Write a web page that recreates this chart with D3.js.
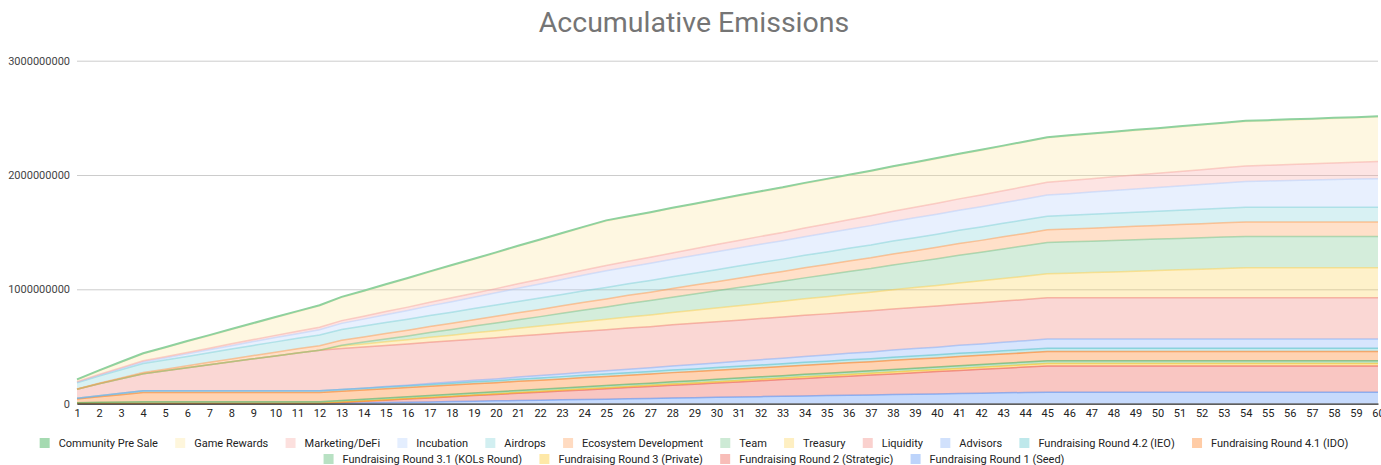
<!DOCTYPE html>
<html>
<head>
<meta charset="utf-8">
<script src="https://cdn.jsdelivr.net/npm/d3@7"></script>
<style>
  html, body { margin: 0; padding: 0; background: #fff; }
  svg { display: block; font-family: Roboto, "Liberation Sans", Arial, sans-serif; }
</style>
</head>
<body>
<svg id="chart" width="1381" height="465"></svg>
<script>
// Cumulative token emissions per month, in millions of tokens.
const months = [1,2,3,4,5,6,7,8,9,10,11,12,13,14,15,16,17,18,19,20,21,22,23,24,25,26,27,28,29,30,
  31,32,33,34,35,36,37,38,39,40,41,42,43,44,45,46,47,48,49,50,51,52,53,54,55,56,57,58,59,60];

const seed = [0,0,0,0,0,0,0,0,0,0,0,0, 3,6,9,12,15,18,21,24,27,30,33,36,
  39,42,45,48,52,55,58,61,64,67,70,73, 76,79,82,85,88,91,94,97,100,100,100,100,
  100,100,100,100,100,100,100,100,100,100,100,100];
const strategic = [0,0,0,0,0,0,0,0,0,0,0,0, 7,14,21,28,35,42,49,56,63,70,77,84,
  91,98,105,112,118,125,132,139,146,153,160,167, 174,181,188,195,202,209,216,223,230,230,230,230,
  230,230,230,230,230,230,230,230,230,230,230,230];
const privateRound = [2,2,2,2,2,2,2,2,2,2,2,2, 3,3,4,4,5,5,6,6,7,7,8,9,
  9,10,10,11,11,12,12,13,13,14,14,15, 15,16,17,17,18,18,19,19,20,20,20,20,
  20,20,20,20,20,20,20,20,20,20,20,20];
const kolsRound = [6,9,12,15,15,15,15,15,15,15,15,15, 15,16,16,16,16,17,17,17,18,18,18,19,
  19,19,19,20,20,20,21,21,21,22,22,22, 22,23,23,23,24,24,24,25,25,25,25,25,
  25,25,25,25,25,25,25,25,25,25,25,25];
const idoRound = [32,48,64,80,80,80,80,80,80,80,80,80, 80,80,80,80,80,80,80,80,80,80,80,80,
  80,80,80,80,80,80,80,80,80,80,80,80, 80,80,80,80,80,80,80,80,80,80,80,80,
  80,80,80,80,80,80,80,80,80,80,80,80];
const ieoRound = [6,9,12,15,15,15,15,15,15,15,15,15, 15,16,16,16,17,17,18,18,19,19,20,20,
  21,21,21,22,22,23,23,24,24,25,25,26, 26,27,27,27,28,28,29,29,30,30,30,30,
  30,30,30,30,30,30,30,30,30,30,30,30];
const advisors = [0,0,0,0,0,0,0,0,0,0,0,0, 0,0,3,5,8,10,13,15,18,21,23,26,
  28,31,33,36,39,41,44,46,49,52,54,57, 59,62,64,67,70,72,75,77,80,80,80,80,
  80,80,80,80,80,80,80,80,80,80,80,80];
const liquidity = [80,105,128,150,176,202,228,254,280,305,330,355, 360,360,360,360,360,360,360,360,360,360,360,360,
  360,360,360,360,360,360,360,360,360,360,360,360, 360,360,360,360,360,360,360,360,360,360,360,360,
  360,360,360,360,360,360,360,360,360,360,360,360];
const treasury = [0,0,0,0,0,0,0,0,0,0,0,0, 20,26,32,38,44,50,56,62,67,73,79,85,
  91,97,103,109,115,121,127,132,138,144,150,156, 162,168,174,180,186,192,198,204,210,215,221,227,
  233,239,245,251,257,263,263,263,263,263,263,263];
const team = [0,0,0,0,0,0,0,0,0,0,0,0, 8,17,25,33,42,50,58,67,75,83,92,100,
  108,117,125,133,142,150,158,167,175,183,192,200, 208,217,225,233,242,250,258,267,275,275,275,275,
  275,275,275,275,275,275,275,275,275,275,275,275];
const ecosystem = [2,5,7,10,13,17,21,25,29,33,37,40, 43,45,47,50,52,54,56,59,61,63,66,68,
  70,72,74,76,78,80,82,84,86,88,90,92, 94,96,98,100,102,104,106,108,110,112,114,116,
  118,119,121,123,125,126,126,126,126,126,126,126];
const airdrops = [55,63,71,78,80,82,84,86,88,90,92,94, 95,95,96,96,97,97,98,98,99,99,99,100,
  100,101,102,103,104,105,106,107,108,109,110,111, 112,113,114,115,116,117,118,119,120,121,122,123,
  124,124,125,126,127,128,128,128,128,128,128,128];
const incubation = [3,7,10,14,18,22,26,30,34,38,41,45, 53,61,68,76,84,92,99,107,115,123,130,138,
  146,148,150,152,154,156,158,160,161,163,165,167, 169,171,173,175,176,178,180,182,184,189,194,198,
  203,208,213,217,222,227,231,235,239,243,247,251];
const marketing = [5,7,8,10,11,13,14,16,17,19,20,22, 24,26,28,30,32,34,35,37,39,41,43,44,
  46,49,53,56,59,63,66,69,72,76,79,82, 86,89,92,96,99,102,105,109,112,115,117,120,
  122,125,127,130,132,135,137,140,142,145,147,150];
const gameRewards = [16,31,47,62,78,94,109,125,140,156,172,187, 203,218,234,250,265,281,296,312,328,343,359,374,
  390,390,390,390,390,390,390,390,390,390,390,390, 390,390,390,390,390,390,390,390,390,390,390,390,
  390,390,390,390,390,390,390,390,390,390,390,390];
const communityPreSale = [5,5,5,5,5,5,5,5,5,5,5,5, 5,5,5,5,5,5,5,5,5,5,5,5,
  5,5,5,5,5,5,5,5,5,5,5,5, 5,5,5,5,5,5,5,5,5,5,5,5,
  5,5,5,5,5,5,5,5,5,5,5,5];

// Stack order, bottom to top
const seriesNames = [
  "Fundraising Round 1 (Seed)", "Fundraising Round 2 (Strategic)", "Fundraising Round 3 (Private)",
  "Fundraising Round 3.1 (KOLs Round)", "Fundraising Round 4.1 (IDO)", "Fundraising Round 4.2 (IEO)",
  "Advisors", "Liquidity", "Treasury", "Team", "Ecosystem Development", "Airdrops",
  "Incubation", "Marketing/DeFi", "Game Rewards", "Community Pre Sale"
];
const seriesValues = [seed, strategic, privateRound, kolsRound, idoRound, ieoRound, advisors, liquidity,
  treasury, team, ecosystem, airdrops, incubation, marketing, gameRewards, communityPreSale];
const seriesColors = ["#4285F4", "#EA4335", "#FBBC04", "#34A853", "#FF6D01", "#46BDC6", "#7BAAF7", "#F07B72",
  "#FCD04F", "#71C287", "#FF994D", "#7ED1D7", "#B3CEFB", "#F7A7A1", "#FDE49B", "#8FD19E"];

const yTicks = [0, 1000, 2000, 3000];
const yTickLabels = ["0", "1000000000", "2000000000", "3000000000"];
const title = "Accumulative Emissions";

// Legend rows, listed top series first
const legendRows = [
  ["Community Pre Sale", "Game Rewards", "Marketing/DeFi", "Incubation", "Airdrops", "Ecosystem Development",
   "Team", "Treasury", "Liquidity", "Advisors", "Fundraising Round 4.2 (IEO)", "Fundraising Round 4.1 (IDO)"],
  ["Fundraising Round 3.1 (KOLs Round)", "Fundraising Round 3 (Private)", "Fundraising Round 2 (Strategic)",
   "Fundraising Round 1 (Seed)"]
];

const plot = { left: 77, right: 1378, top: 60.7, bottom: 403.6 };

const svg = d3.select("#chart");

// Table for the stack generator
const table = months.map((m, i) => {
  const row = { month: m };
  seriesNames.forEach((name, k) => { row[name] = seriesValues[k][i]; });
  return row;
});
const stacked = d3.stack().keys(seriesNames)(table);

const x = d3.scaleLinear().domain([months[0], months[months.length - 1]]).range([plot.left, plot.right]);
const y = d3.scaleLinear().domain([0, 3000]).range([plot.bottom, plot.top]);

// Title
svg.append("text")
  .attr("x", 694).attr("y", 32)
  .attr("text-anchor", "middle")
  .attr("font-size", 28.5)
  .attr("fill", "#757575")
  .text(title);

// Gridlines and value labels
const yAxis = d3.axisLeft(y).tickValues(yTicks).tickFormat((d, i) => yTickLabels[i])
  .tickSize(-(plot.right - plot.left)).tickPadding(7);
const gy = svg.append("g").attr("transform", `translate(${plot.left},0)`).call(yAxis);
gy.select(".domain").remove();
gy.selectAll(".tick line").attr("stroke", "#cccccc").attr("stroke-width", 1);
gy.selectAll(".tick text").attr("fill", "#444").attr("font-size", 11)
  .attr("font-family", "Roboto, Arial, sans-serif");

// Stacked areas with a line along each series' upper edge
const area = d3.area()
  .x((d, i) => x(months[i]))
  .y0(d => y(d[0]))
  .y1(d => y(d[1]));
const line = d3.line()
  .x((d, i) => x(months[i]))
  .y(d => y(d[1]));

svg.append("g").selectAll("path").data(stacked).join("path")
  .attr("d", area)
  .attr("fill", (d, k) => seriesColors[k])
  .attr("fill-opacity", 0.3);

svg.append("g").selectAll("path").data(stacked).join("path")
  .attr("d", line)
  .attr("fill", "none")
  .attr("stroke", (d, k) => seriesColors[k])
  .attr("stroke-width", (d, k) => k === seriesNames.length - 1 ? 2 : 1.5)
  .attr("stroke-opacity", (d, k) => k === seriesNames.length - 1 ? 1 : 0.5);

// Baseline and month labels
const xAxis = d3.axisBottom(x).tickValues(months).tickFormat(d => d).tickSize(0).tickPadding(6);
const gx = svg.append("g").attr("transform", `translate(0,${plot.bottom})`).call(xAxis);
gx.select(".domain").attr("stroke", "#333").attr("stroke-width", 1.2);
gx.selectAll(".tick text").attr("fill", "#222").attr("font-size", 11)
  .attr("font-family", "Roboto, Arial, sans-serif");

// Legend
const legendY = [443, 459];
const swatch = 10, swGap = 9, itemGap = 17.3;
legendRows.forEach((row, r) => {
  const g = svg.append("g");
  let cx = 0;
  row.forEach(name => {
    const k = seriesNames.indexOf(name);
    const item = g.append("g").attr("transform", `translate(${cx},0)`);
    item.append("rect").attr("x", 0).attr("y", legendY[r] - swatch / 2)
      .attr("width", swatch).attr("height", swatch)
      .attr("fill", seriesColors[k]).attr("fill-opacity", k === seriesNames.length - 1 ? 0.8 : 0.35);
    const t = item.append("text").attr("x", swatch + swGap).attr("y", legendY[r] + 4)
      .attr("font-size", 11).attr("fill", "#222").text(name);
    cx += swatch + swGap + t.node().getComputedTextLength() + itemGap;
  });
  const total = cx - itemGap;
  g.attr("transform", `translate(${694 - total / 2},0)`);
});
</script>
</body>
</html>
